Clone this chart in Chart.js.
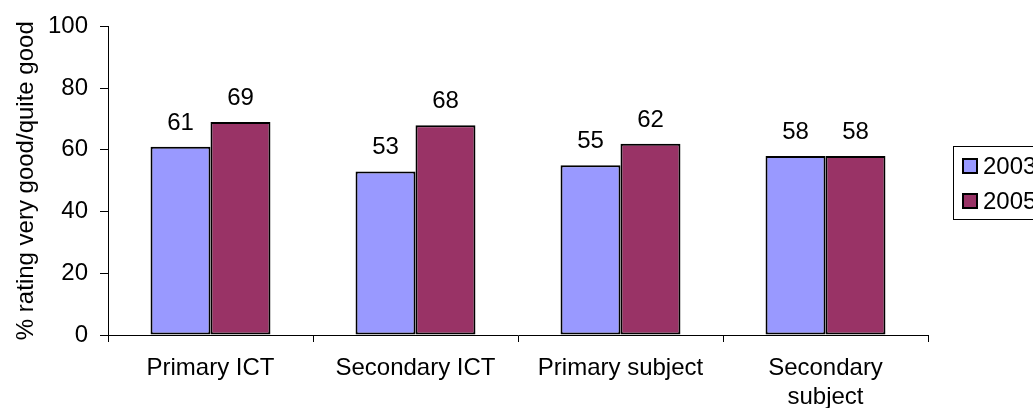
<!DOCTYPE html>
<html>
<head>
<meta charset="utf-8">
<script src="https://cdn.jsdelivr.net/npm/chart.js@4/dist/chart.umd.min.js"></script>
<style>
  html, body { margin: 0; padding: 0; background: #fff; }
  #wrap { width: 1033px; height: 408px; }
</style>
</head>
<body>
<div id="wrap"><canvas id="chart"></canvas></div>
<script>
const categories = ["Primary ICT", "Secondary ICT", "Primary subject", ["Secondary", "subject"]];
const series2003 = [61, 53, 55, 58];
const series2005 = [69, 68, 62, 58];
const yTicks = [0, 20, 40, 60, 80, 100];

const FONT = "Arial, 'Liberation Sans', sans-serif";

// value labels above each bar
const barLabels = {
  id: "barLabels",
  afterDatasetsDraw(chart) {
    const ctx = chart.ctx;
    ctx.save();
    ctx.font = "24px " + FONT;
    ctx.fillStyle = "#000";
    ctx.textAlign = "center";
    ctx.textBaseline = "alphabetic";
    chart.data.datasets.forEach((ds, i) => {
      chart.getDatasetMeta(i).data.forEach((bar, j) => {
        ctx.fillText(String(ds.data[j]), bar.x, bar.y - 17);
      });
    });
    ctx.restore();
  }
};

// boxed legend on the right, like the old spreadsheet chart
const boxLegend = {
  id: "boxLegend",
  afterDraw(chart) {
    const ctx = chart.ctx;
    const area = chart.chartArea;
    const left = area.right + 25;
    const rowH = 35;
    const n = chart.data.datasets.length;
    const h = rowH * n + 3;
    const top = (area.top + area.bottom) / 2 - h / 2 + 2;
    ctx.save();
    ctx.strokeStyle = "#000";
    ctx.lineWidth = 1;
    ctx.strokeRect(left + 0.5, Math.round(top) + 0.5, 200, h);
    ctx.font = "24px " + FONT;
    ctx.textBaseline = "middle";
    ctx.textAlign = "left";
    chart.data.datasets.forEach((ds, i) => {
      const cy = top + 20 + i * rowH;
      ctx.fillStyle = ds.backgroundColor;
      ctx.fillRect(left + 10, Math.round(cy - 7), 14, 14);
      ctx.lineWidth = 2;
      ctx.strokeRect(left + 10, Math.round(cy - 7), 14, 14);
      ctx.fillStyle = "#000";
      ctx.fillText(ds.label, left + 30, cy + 1);
    });
    ctx.restore();
  }
};

new Chart(document.getElementById("chart"), {
  type: "bar",
  data: {
    labels: categories,
    datasets: [
      {
        label: "2003",
        data: series2003,
        backgroundColor: "#9999ff",
        borderColor: "#000",
        borderWidth: 2,
        borderSkipped: false,
        categoryPercentage: 0.585,
        barPercentage: 1
      },
      {
        label: "2005",
        data: series2005,
        backgroundColor: "#993366",
        borderColor: "#000",
        borderWidth: 2,
        borderSkipped: false,
        categoryPercentage: 0.585,
        barPercentage: 1
      }
    ]
  },
  options: {
    responsive: true,
    maintainAspectRatio: false,
    animation: false,
    layout: { padding: { top: 24, right: 105, left: 0, bottom: 0 } },
    plugins: {
      legend: { display: false },
      tooltip: { enabled: false }
    },
    scales: {
      x: {
        grid: {
          offset: true,
          drawOnChartArea: false,
          drawTicks: true,
          tickLength: 7,
          color: "#000"
        },
        border: { display: true, color: "#000", width: 1 },
        ticks: {
          color: "#000",
          font: { family: FONT, size: 24, lineHeight: 1.2 },
          padding: 12,
          maxRotation: 0,
          autoSkip: false
        },
        afterFit(scale) { scale.height = 73; }
      },
      y: {
        min: 0,
        max: 100,
        afterBuildTicks(scale) {
          scale.ticks = yTicks.map(v => ({ value: v }));
        },
        grid: {
          drawOnChartArea: false,
          drawTicks: true,
          tickLength: 8,
          color: "#000"
        },
        border: { display: true, color: "#000", width: 1 },
        ticks: {
          color: "#000",
          font: { family: FONT, size: 24 },
          padding: 12
        },
        title: {
          display: true,
          text: "% rating very good/quite good",
          color: "#000",
          font: { family: FONT, size: 24 },
          padding: { top: 12, bottom: 0 }
        },
        afterFit(scale) { scale.width = 108; }
      }
    }
  },
  plugins: [barLabels, boxLegend]
});
</script>
</body>
</html>
